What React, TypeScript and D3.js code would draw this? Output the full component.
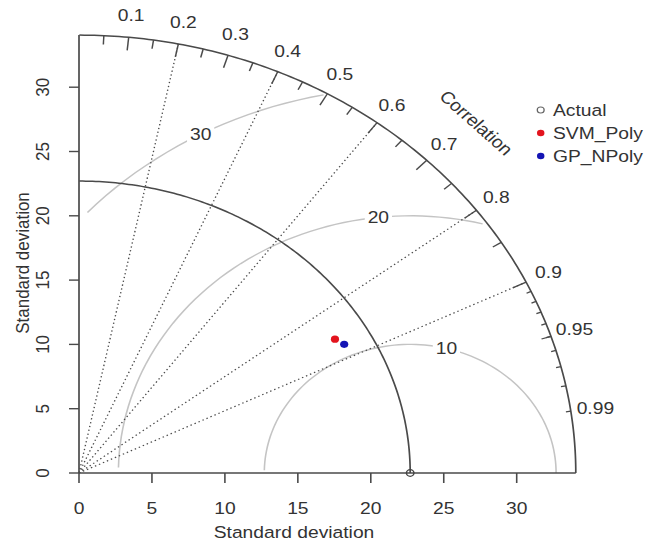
import React from "react";
import * as d3 from "d3";

// Reference (observed) series and model series
const refName = "Actual";
const refSd = 22.7;
const maxSd = 34.05;
const modelNames = ["SVM_Poly", "GP_NPoly"];
const modelSd = [20.4, 20.75];
const modelCor = [0.86, 0.876];
const modelColors = ["#e3141e", "#1414b4"];

// Axis and grid definitions
const sdTicks = [0, 5, 10, 15, 20, 25, 30];
const corrLines = [0.2, 0.4, 0.6, 0.8, 0.9];
const bigTicks = [0.1, 0.2, 0.3, 0.4, 0.5, 0.6, 0.7, 0.8, 0.9];
const medTicks = [0.05, 0.15, 0.25, 0.35, 0.45, 0.55, 0.65, 0.75, 0.85, 0.95];
const smallTicks = [0.91, 0.92, 0.93, 0.94, 0.95, 0.96, 0.97, 0.98, 0.99];
const corrLabels = [0.1, 0.2, 0.3, 0.4, 0.5, 0.6, 0.7, 0.8, 0.9, 0.95, 0.99];
const rmsLevels = [10, 20, 30];

const W = 647;
const H = 548;
const X0 = 79;
const Y0 = 473;
const SX = 14.59;
const SY = 12.86;
const K = SX / SY; // horizontal stretch of the device

const FONT = "'Liberation Sans', Arial, Helvetica, sans-serif";
const FS = 17;
const TXT = "#333";
const LINE = "#4a4a4a";

export default function App() {
  // isotropic inner coordinates; the outer group stretches x by K
  const x = d3.scaleLinear().domain([0, maxSd]).range([X0 / K, X0 / K + SY * maxSd]);
  const y = d3.scaleLinear().domain([0, maxSd]).range([Y0, Y0 - SY * maxSd]);
  const polar = (r: number, c: number): [number, number] => [
    x(r * c),
    y(r * Math.sqrt(Math.max(0, 1 - c * c))),
  ];
  const line = d3.line<[number, number]>().x((d) => x(d[0])).y((d) => y(d[1]));

  const quarter = (r: number) =>
    line(d3.range(0, Math.PI / 2 + 0.0001, 0.01).map((t) => [r * Math.cos(t), r * Math.sin(t)] as [number, number]));

  // centred RMS difference contours
  const thetas = d3.range(0, Math.PI, 0.03);
  const n = rmsLevels.length;
  const rms = rmsLevels.map((g, i) => {
    const pts = thetas.map((t) => [refSd + g * Math.cos(t), g * Math.sin(t)] as [number, number]);
    let start = 0;
    pts.forEach((p, j) => {
      if (p[0] * p[0] + p[1] * p[1] > maxSd * maxSd) start = j + 1;
    });
    let end = pts.findIndex((p) => p[0] < 0);
    if (end < 0) end = pts.length;
    const seg = pts.slice(start, end);
    const li = Math.floor(45 + (n > 1 ? (i * 25) / (n - 1) : 0)) - 1;
    return { g, path: line(seg) as string, lab: pts[li] };
  });

  const tickSeg = (c: number, f: number) => {
    const [x1, y1] = polar(maxSd, c);
    const [x2, y2] = polar(maxSd * f, c);
    return { x1, y1, x2, y2 };
  };

  const legendY = [110, 133, 156];
  const legX = 540.7 / K;
  const legTX = 553 / K;

  return (
    <svg
      width={W}
      height={H}
      viewBox={`0 0 ${W} ${H}`}
      style={{ position: "absolute", left: 0, top: 0, background: "#fff", display: "block" }}
      fontFamily={FONT}
    >
      <rect x={0} y={0} width={W} height={H} fill="#fff" />
      <g transform={`scale(${K},1)`}>
        {/* RMS contours */}
        {rms.map((d) => (
          <g key={`rms${d.g}`}>
            <path d={d.path} fill="none" stroke="#c4c4c4" strokeWidth={1.4} />
            <rect
              x={x(d.lab[0]) - 12}
              y={y(d.lab[1]) - 9}
              width={24}
              height={18}
              fill="#fff"
            />
            <text
              x={x(d.lab[0])}
              y={y(d.lab[1])}
              textAnchor="middle"
              dominantBaseline="central"
              fontSize={FS}
              fill={TXT}
            >
              {d.g}
            </text>
          </g>
        ))}

        {/* correlation rays */}
        {corrLines.map((c) => {
          const [x2, y2] = polar(maxSd, c);
          return (
            <line
              key={`cl${c}`}
              x1={x(0)}
              y1={y(0)}
              x2={x2}
              y2={y2}
              stroke={LINE}
              strokeWidth={1.2}
              strokeDasharray="1.3 2.6"
            />
          );
        })}

        {/* outer and reference arcs */}
        <path d={quarter(maxSd) as string} fill="none" stroke={LINE} strokeWidth={1.5} />
        <path d={quarter(refSd) as string} fill="none" stroke={LINE} strokeWidth={1.5} />

        {/* axes */}
        <line x1={x(0)} y1={y(0)} x2={x(maxSd)} y2={y(0)} stroke={LINE} strokeWidth={1.5} />
        <line x1={x(0)} y1={y(0)} x2={x(0)} y2={y(maxSd)} stroke={LINE} strokeWidth={1.5} />

        {/* correlation tick marks */}
        {bigTicks.map((c) => (
          <line key={`bt${c}`} {...tickSeg(c, 0.97)} stroke={LINE} strokeWidth={1.3} />
        ))}
        {medTicks.map((c) => (
          <line key={`mt${c}`} {...tickSeg(c, 0.98)} stroke={LINE} strokeWidth={1.3} />
        ))}
        {smallTicks.map((c) => (
          <line key={`st${c}`} {...tickSeg(c, 0.99)} stroke={LINE} strokeWidth={1.3} />
        ))}

        {/* correlation labels */}
        {corrLabels.map((c) => {
          const [lx, ly] = polar(maxSd * 1.05, c);
          return (
            <text
              key={`cLab${c}`}
              x={lx}
              y={ly}
              textAnchor="middle"
              dominantBaseline="central"
              fontSize={FS}
              fill={TXT}
            >
              {c}
            </text>
          );
        })}
        <text
          transform={`translate(${476 / K},123) rotate(45)`}
          textAnchor="middle"
          dominantBaseline="central"
          fontSize={FS}
          fill={TXT}
        >
          Correlation
        </text>

        {/* x axis ticks */}
        {sdTicks.map((t) => (
          <g key={`xt${t}`}>
            <line x1={x(t)} y1={y(0)} x2={x(t)} y2={y(0) + 10} stroke={LINE} strokeWidth={1.4} />
            <text
              x={x(t)}
              y={508}
              textAnchor="middle"
              dominantBaseline="central"
              fontSize={FS}
              fill={TXT}
            >
              {t}
            </text>
          </g>
        ))}
        {/* y axis ticks */}
        {sdTicks.map((t) => (
          <g key={`yt${t}`}>
            <line x1={x(0)} y1={y(t)} x2={x(0) - 10 / K} y2={y(t)} stroke={LINE} strokeWidth={1.4} />
            <text
              transform={`translate(${42.5 / K},${y(t)}) rotate(-90)`}
              textAnchor="middle"
              dominantBaseline="central"
              fontSize={FS}
              fill={TXT}
            >
              {t}
            </text>
          </g>
        ))}

        <text x={294 / K} y={532} textAnchor="middle" dominantBaseline="central" fontSize={FS} fill={TXT}>
          Standard deviation
        </text>
        <text
          transform={`translate(${23 / K},263) rotate(-90)`}
          textAnchor="middle"
          dominantBaseline="central"
          fontSize={FS}
          fill={TXT}
        >
          Standard deviation
        </text>

        {/* reference point */}
        <circle cx={x(refSd)} cy={y(0)} r={3.3} fill="none" stroke="#444" strokeWidth={1.3} />

        {/* model points */}
        {modelNames.map((m, i) => {
          const [px, py] = polar(modelSd[i], modelCor[i]);
          return <circle key={m} cx={px} cy={py} r={3.6} fill={modelColors[i]} />;
        })}

        {/* legend */}
        <circle cx={legX} cy={legendY[0]} r={3} fill="none" stroke="#666" strokeWidth={1.2} />
        <text x={legTX} y={legendY[0]} dominantBaseline="central" fontSize={FS} fill={TXT}>
          {refName}
        </text>
        {modelNames.map((m, i) => (
          <g key={`leg${m}`}>
            <circle cx={legX} cy={legendY[i + 1]} r={3.3} fill={modelColors[i]} />
            <text x={legTX} y={legendY[i + 1]} dominantBaseline="central" fontSize={FS} fill={TXT}>
              {m}
            </text>
          </g>
        ))}
      </g>
    </svg>
  );
}
